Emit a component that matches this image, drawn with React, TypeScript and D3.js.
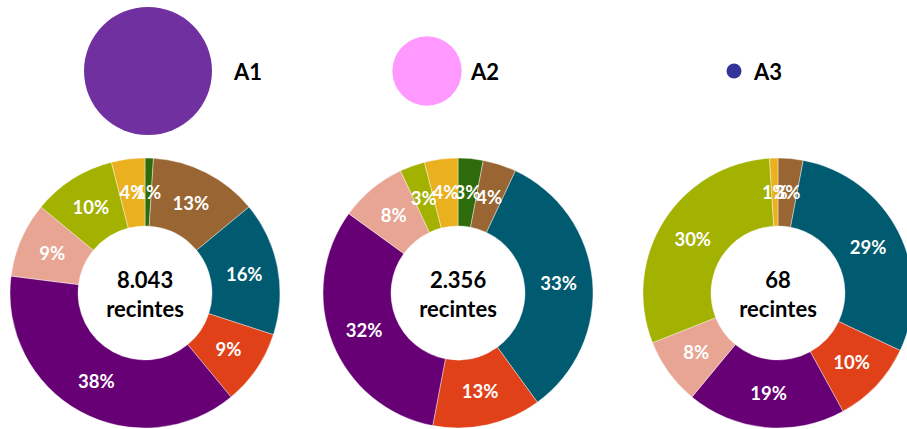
import { useEffect, useRef } from 'react';
import * as d3 from 'd3';

// groups shown in the top legend and under each donut
const groups = ['A1', 'A2', 'A3'];
const totals = [8043, 2356, 68];
const bubbleColors = ['#7030A0', '#FF99FF', '#333399'];

// slice colours, clockwise from 12 o'clock
const sliceColors = ['#2E6B0B', '#996633', '#005A70', '#E04119', '#660074', '#E8A594', '#A3B200', '#EAB01E'];

// percentages per slice
const a1Values = [1, 13, 16, 9, 38, 9, 10, 4];
const a2Values = [3, 4, 33, 13, 32, 8, 3, 4];
const a3Values = [0, 3, 29, 10, 19, 8, 30, 1];

const W = 907;
const H = 429;
const FONT = 'Lato, "Open Sans", sans-serif';

export default function App() {
  const svgRef = useRef<SVGSVGElement>(null);

  useEffect(() => {
    const svg = d3.select(svgRef.current);
    svg.selectAll('*').remove();

    const fmt = d3.formatLocale({ decimal: ',', thousands: '.', grouping: [3], currency: ['', '€'] }).format(',d');

    // Top bubbles
    const bubbleX = [148, 427, 734];
    const labelX = [234, 471, 754];
    const r = d3.scaleSqrt().domain([0, d3.max(totals)!]).range([0, 64]);

    const top = svg.append('g');
    groups.forEach((g, i) => {
      top.append('circle')
        .attr('cx', bubbleX[i])
        .attr('cy', 71)
        .attr('r', Math.max(r(totals[i]), 7.5))
        .attr('fill', bubbleColors[i]);
      top.append('text')
        .attr('x', labelX[i])
        .attr('y', 80)
        .attr('font-family', FONT)
        .attr('font-weight', 700)
        .attr('font-size', 22)
        .attr('fill', '#000')
        .text(g);
    });

    // Donuts
    const centersX = [145, 458, 778];
    const cy = 293;
    const outer = 135;
    const inner = 67;
    const pie = d3.pie<number>().sort(null).value(d => d);
    const arc = d3.arc<d3.PieArcDatum<number>>().innerRadius(inner).outerRadius(outer);

    [a1Values, a2Values, a3Values].forEach((vals, i) => {
      const g = svg.append('g').attr('transform', `translate(${centersX[i]},${cy})`);
      const arcs = pie(vals);

      g.selectAll('path')
        .data(arcs)
        .enter()
        .append('path')
        .attr('d', arc)
        .attr('fill', (_, j) => sliceColors[j])
        .attr('stroke', 'white')
        .attr('stroke-width', 0.4);

      g.selectAll('text.pct')
        .data(arcs.filter(d => d.data > 0))
        .enter()
        .append('text')
        .attr('class', 'pct')
        .attr('transform', d => `translate(${arc.centroid(d)})`)
        .attr('text-anchor', 'middle')
        .attr('dy', '0.36em')
        .attr('font-family', FONT)
        .attr('font-weight', 700)
        .attr('font-size', 18.5)
        .attr('fill', 'white')
        .text(d => `${d.data}%`);

      g.append('text')
        .attr('text-anchor', 'middle')
        .attr('y', -5)
        .attr('font-family', FONT)
        .attr('font-weight', 700)
        .attr('font-size', 22)
        .attr('fill', '#000')
        .text(fmt(totals[i]));
      g.append('text')
        .attr('text-anchor', 'middle')
        .attr('y', 24)
        .attr('font-family', FONT)
        .attr('font-weight', 700)
        .attr('font-size', 22)
        .attr('fill', '#000')
        .text('recintes');
    });
  }, []);

  return (
    <svg
      ref={svgRef}
      width={W}
      height={H}
      style={{ position: 'absolute', left: 0, top: 0, background: 'white' }}
    />
  );
}
